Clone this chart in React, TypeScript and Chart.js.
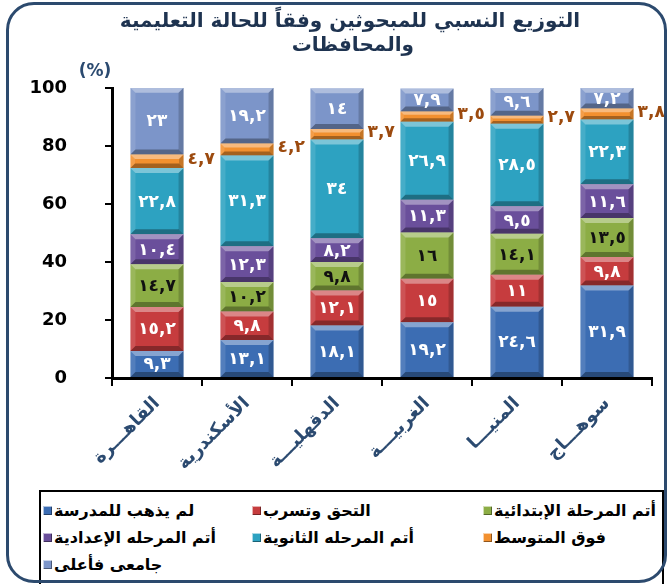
import React, { useEffect, useRef } from 'react';
import { Chart, registerables } from 'chart.js';

Chart.register(...registerables);

// ---- Data ----
const governorates = ['القاهـــرة', 'الأسكندرية', 'الدقهليـــة', 'الغربيـــة', 'المنيـــا', 'سوهـــاج'];
const seriesNames = [
  'لم يذهب للمدرسة',
  'التحق وتسرب',
  'أتم المرحلة الإبتدائية',
  'أتم المرحله الإعدادية',
  'أتم المرحله الثانوية',
  'فوق المتوسط',
  'جامعى فأعلى',
];
const neverAttended = [9.3, 13.1, 18.1, 19.2, 24.6, 31.9];
const droppedOut = [15.2, 9.8, 12.1, 15, 11, 9.8];
const primaryDone = [14.7, 10.2, 9.8, 16, 14.1, 13.5];
const preparatoryDone = [10.4, 12.3, 8.2, 11.3, 9.5, 11.6];
const secondaryDone = [22.8, 31.3, 34, 26.9, 28.5, 22.3];
const aboveIntermediate = [4.7, 4.2, 3.7, 3.5, 2.7, 3.8];
const university = [23, 19.2, 14, 7.9, 9.6, 7.2];
const yTickValues = [0, 20, 40, 60, 80, 100];
const titleLines = ['التوزيع النسبي للمبحوثين وفقاً للحالة التعليمية', 'والمحافظات'];

const seriesValues = [neverAttended, droppedOut, primaryDone, preparatoryDone, secondaryDone, aboveIntermediate, university];
const seriesColors = ['#3c6db3', '#c63c3e', '#8cad45', '#6a4f9b', '#2da2c1', '#f2902f', '#7c95c9'];
const labelColors = ['#ffffff', '#ffffff', '#111111', '#ffffff', '#ffffff', '#9c4a0e', '#ffffff'];
const labelOutside = [false, false, false, false, false, true, false];

const FONT = '"DejaVu Sans", sans-serif';

const toArabicDigits = (v: number) =>
  String(v).replace('.', ',').replace(/\d/g, (d) => '٠١٢٣٤٥٦٧٨٩'[Number(d)]);

const bevelAndLabels = {
  id: 'bevelAndLabels',
  afterDatasetsDraw(chart: any) {
    const ctx = chart.ctx as CanvasRenderingContext2D;
    chart.data.datasets.forEach((ds: any, di: number) => {
      const meta = chart.getDatasetMeta(di);
      meta.data.forEach((bar: any, i: number) => {
        const { x, y, base, width } = bar.getProps(['x', 'y', 'base', 'width'], true);
        const l = x - width / 2;
        const r = x + width / 2;
        const t = Math.min(y, base);
        const b = Math.max(y, base);
        const h = b - t;
        const e = Math.min(5, h / 3);
        ctx.save();
        ctx.fillStyle = 'rgba(255,255,255,0.38)';
        ctx.beginPath();
        ctx.moveTo(l, t); ctx.lineTo(r, t); ctx.lineTo(r - e, t + e); ctx.lineTo(l + e, t + e);
        ctx.closePath(); ctx.fill();
        ctx.fillStyle = 'rgba(255,255,255,0.12)';
        ctx.beginPath();
        ctx.moveTo(l, t); ctx.lineTo(l + e, t + e); ctx.lineTo(l + e, b - e); ctx.lineTo(l, b);
        ctx.closePath(); ctx.fill();
        ctx.fillStyle = 'rgba(0,0,0,0.18)';
        ctx.beginPath();
        ctx.moveTo(r, t); ctx.lineTo(r - e, t + e); ctx.lineTo(r - e, b - e); ctx.lineTo(r, b);
        ctx.closePath(); ctx.fill();
        ctx.fillStyle = 'rgba(0,0,0,0.32)';
        ctx.beginPath();
        ctx.moveTo(l, b); ctx.lineTo(r, b); ctx.lineTo(r - e, b - e); ctx.lineTo(l + e, b - e);
        ctx.closePath(); ctx.fill();

        const text = toArabicDigits(ds.data[i]);
        ctx.font = `bold 17px ${FONT}`;
        ctx.fillStyle = ds.labelColor;
        ctx.textBaseline = 'middle';
        if (ds.labelOutside) {
          ctx.textAlign = 'left';
          ctx.fillText(text, r + 4, (t + b) / 2 - 2);
        } else {
          ctx.textAlign = 'center';
          ctx.fillText(text, x, (t + b) / 2 + 1);
        }
        ctx.restore();
      });
    });
  },
  afterDraw(chart: any) {
    const ctx = chart.ctx as CanvasRenderingContext2D;
    ctx.save();
    ctx.font = `bold 20px ${FONT}`;
    ctx.fillStyle = '#1e3350';
    ctx.textAlign = 'right';
    ctx.textBaseline = 'middle';
    const rightEdges = [580, 414];
    titleLines.forEach((line, i) => ctx.fillText(line, rightEdges[i], 22 + i * 24));
    ctx.textAlign = 'center';
    ctx.font = `bold 17px ${FONT}`;
    ctx.fillStyle = '#2b4a70';
    ctx.fillText('(%)', 95, 72);
    ctx.restore();
  },
};

export default function App() {
  const canvasRef = useRef<HTMLCanvasElement | null>(null);

  useEffect(() => {
    const canvas = canvasRef.current;
    if (!canvas) return;
    const chart = new Chart(canvas, {
      type: 'bar',
      data: {
        labels: governorates,
        datasets: seriesNames.map((name, k) => ({
          label: name,
          data: seriesValues[k],
          backgroundColor: seriesColors[k],
          borderWidth: 0,
          barPercentage: 0.59,
          categoryPercentage: 1,
          labelColor: labelColors[k],
          labelOutside: labelOutside[k],
        })) as any,
      },
      options: {
        responsive: false,
        animation: false,
        layout: { padding: { left: 0, right: 18, top: 88, bottom: 0 } },
        plugins: {
          legend: { display: false },
          tooltip: { enabled: false },
          title: { display: false },
        },
        scales: {
          x: {
            stacked: true,
            border: { display: true, color: '#000', width: 3 },
            grid: { drawOnChartArea: false, drawTicks: true, tickLength: 8, color: '#000', lineWidth: 2, offset: true },
            ticks: {
              color: '#2b4a70',
              font: { family: FONT, size: 18, weight: 'bold' },
              maxRotation: 45,
              minRotation: 45,
              autoSkip: false,
              padding: 7,
            },
            afterFit: (scale: any) => { scale.height = 206; },
          },
          y: {
            stacked: true,
            min: 0,
            max: 100,
            border: { display: true, color: '#000', width: 3 },
            grid: { drawOnChartArea: false, drawTicks: true, tickLength: 7, color: '#000', lineWidth: 2 },
            afterBuildTicks: (scale: any) => { scale.ticks = yTickValues.map((v) => ({ value: v })); },
            ticks: {
              color: '#000',
              font: { family: FONT, size: 18, weight: 'bold' },
              padding: 38,
            },
            afterFit: (scale: any) => { scale.width = 112; },
          },
        },
      },
      plugins: [bevelAndLabels],
    });
    return () => chart.destroy();
  }, []);

  return (
    <div style={{ position: 'absolute', left: 0, top: 0, width: 670, height: 584, overflow: 'hidden', background: '#fff', fontFamily: FONT }}>
      <canvas ref={canvasRef} width={670} height={584} style={{ position: 'absolute', left: 0, top: 0, width: 670, height: 584 }} />
      <div style={{ position: 'absolute', left: 39, top: 490, width: 625, height: 97, border: '2px solid #000', boxSizing: 'border-box', background: '#fff' }}>
        {seriesNames.map((name, k) => {
          const col = k === 6 ? 0 : k % 3;
          const row = Math.floor(k / 3);
          const lefts = [2, 211, 442];
          return (
            <div key={name} style={{ position: 'absolute', left: lefts[col], top: 5 + row * 27, height: 27, display: 'flex', alignItems: 'center', whiteSpace: 'nowrap' }}>
              <span style={{ display: 'inline-block', width: 9, height: 9, background: seriesColors[k], boxShadow: 'inset 1px 1px 0 rgba(255,255,255,0.6), inset -1px -1px 0 rgba(0,0,0,0.4)', marginRight: 2 }} />
              <span style={{ direction: 'rtl', fontWeight: 'bold', fontSize: 16, color: '#000' }}>{name}</span>
            </div>
          );
        })}
      </div>
      <div style={{ position: 'absolute', left: 6, top: 2, width: 661, height: 581, border: '3px solid #2c4a6e', borderRadius: 28, boxSizing: 'border-box', pointerEvents: 'none' }} />
    </div>
  );
}
